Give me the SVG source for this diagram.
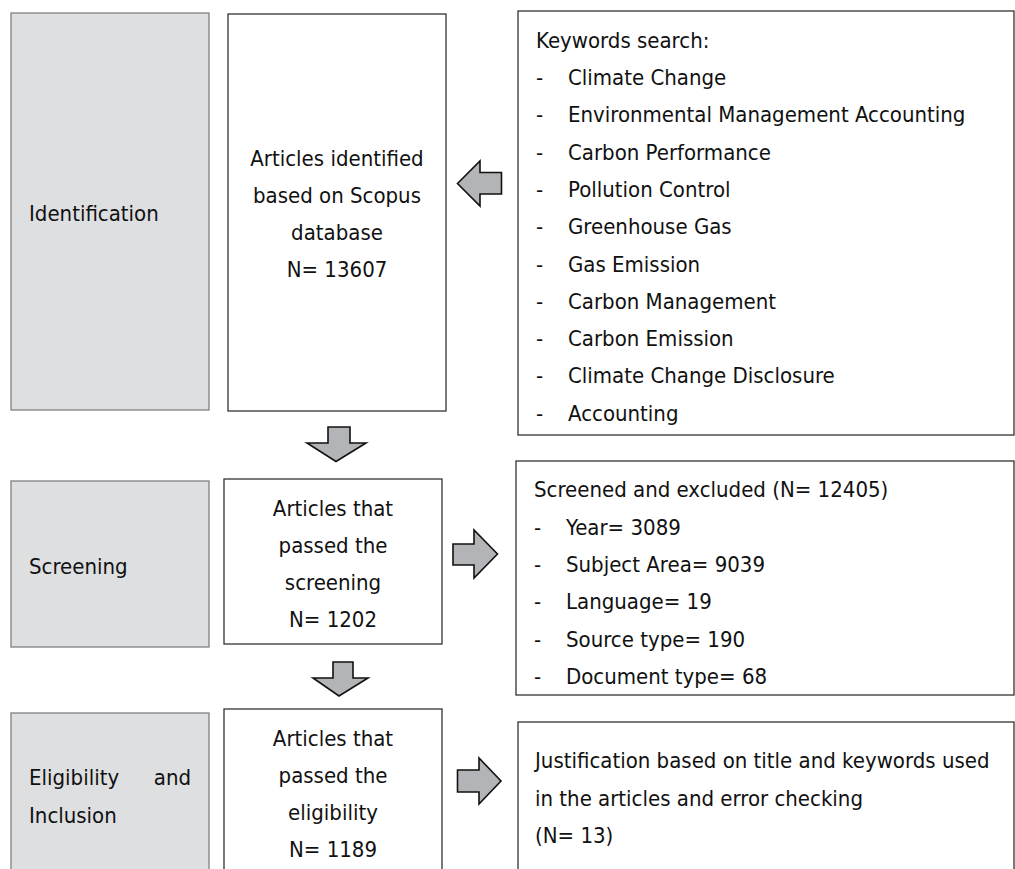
<svg xmlns="http://www.w3.org/2000/svg" width="1015" height="869" viewBox="0 0 1015 869">
<style>
text{font-family:"DejaVu Sans Condensed","DejaVu Sans",sans-serif;font-stretch:condensed;font-size:22px;fill:#111}
.stage{fill:#dedfe1;stroke:#808080;stroke-width:1.3}
.box{fill:#fff;stroke:#333;stroke-width:1.3}
.arr{fill:#b3b4b7;stroke:#111;stroke-width:1.6;stroke-linejoin:miter}
.c{text-anchor:middle}
</style>
<rect width="1015" height="869" fill="#fff"/>
<g id="stage-identification"><rect class="stage" x="11" y="13" width="198" height="397"/><text x="29" y="221">Identification</text></g>
<g id="stage-screening"><rect class="stage" x="11" y="481" width="198" height="166"/><text x="29" y="574">Screening</text></g>
<g id="stage-eligibility"><rect class="stage" x="11" y="713" width="198" height="180"/><text x="29" y="785">Eligibility</text><text x="191" y="785" text-anchor="end">and</text><text x="29" y="823">Inclusion</text></g>
<g id="identified"><rect class="box" x="228" y="14" width="218" height="397"/>
<text class="c" x="337" y="166">Articles identified</text><text class="c" x="337" y="203">based on Scopus</text><text class="c" x="337" y="240">database</text><text class="c" x="337" y="277">N= 13607</text></g>
<g id="screened"><rect class="box" x="224" y="479" width="218" height="165"/>
<text class="c" x="333" y="516">Articles that</text><text class="c" x="333" y="553">passed the</text><text class="c" x="333" y="590">screening</text><text class="c" x="333" y="627">N= 1202</text></g>
<g id="eligible"><rect class="box" x="224" y="709" width="218" height="180"/>
<text class="c" x="333" y="746">Articles that</text><text class="c" x="333" y="783">passed the</text><text class="c" x="333" y="820">eligibility</text><text class="c" x="333" y="857">N= 1189</text></g>
<g id="keywords"><rect class="box" x="518" y="11" width="496" height="424"/>
<text x="536" y="48">Keywords search:</text>
<g><text x="536" y="85">-</text><text x="568" y="85">Climate Change</text></g>
<g><text x="536" y="122">-</text><text x="568" y="122">Environmental Management Accounting</text></g>
<g><text x="536" y="160">-</text><text x="568" y="160">Carbon Performance</text></g>
<g><text x="536" y="197">-</text><text x="568" y="197">Pollution Control</text></g>
<g><text x="536" y="234">-</text><text x="568" y="234">Greenhouse Gas</text></g>
<g><text x="536" y="272">-</text><text x="568" y="272">Gas Emission</text></g>
<g><text x="536" y="309">-</text><text x="568" y="309">Carbon Management</text></g>
<g><text x="536" y="346">-</text><text x="568" y="346">Carbon Emission</text></g>
<g><text x="536" y="383">-</text><text x="568" y="383">Climate Change Disclosure</text></g>
<g><text x="536" y="421">-</text><text x="568" y="421">Accounting</text></g>
</g>
<g id="excluded"><rect class="box" x="516" y="461" width="498" height="234"/>
<text x="534" y="497">Screened and excluded (N= 12405)</text>
<g><text x="534" y="535">-</text><text x="566" y="535">Year= 3089</text></g>
<g><text x="534" y="572">-</text><text x="566" y="572">Subject Area= 9039</text></g>
<g><text x="534" y="609">-</text><text x="566" y="609">Language= 19</text></g>
<g><text x="534" y="647">-</text><text x="566" y="647">Source type= 190</text></g>
<g><text x="534" y="684">-</text><text x="566" y="684">Document type= 68</text></g>
</g>
<g id="justification"><rect class="box" x="518" y="722" width="496" height="170"/>
<text x="535" y="768">Justification based on title and keywords used</text>
<text x="535" y="806">in the articles and error checking</text>
<text x="535" y="843">(N= 13)</text>
</g>
<g id="connectors">
<polygon class="arr" points="457.5,183.5 480,161 480,172.5 501.5,172.5 501.5,194 480,194 480,206"/>
<polygon class="arr" points="328,427 350,427 350,443 366,443 336,461.5 307,443 328,443"/>
<polygon class="arr" points="453,544 474,544 474,530 497.5,554 474,578 474,565 453,565"/>
<polygon class="arr" points="333,662 353,662 353,678 368,678 339,696 313,678 333,678"/>
<polygon class="arr" points="457.5,770 479,770 479,758 501,781 479,804 479,792 457.5,792"/>
</g>
</svg>
